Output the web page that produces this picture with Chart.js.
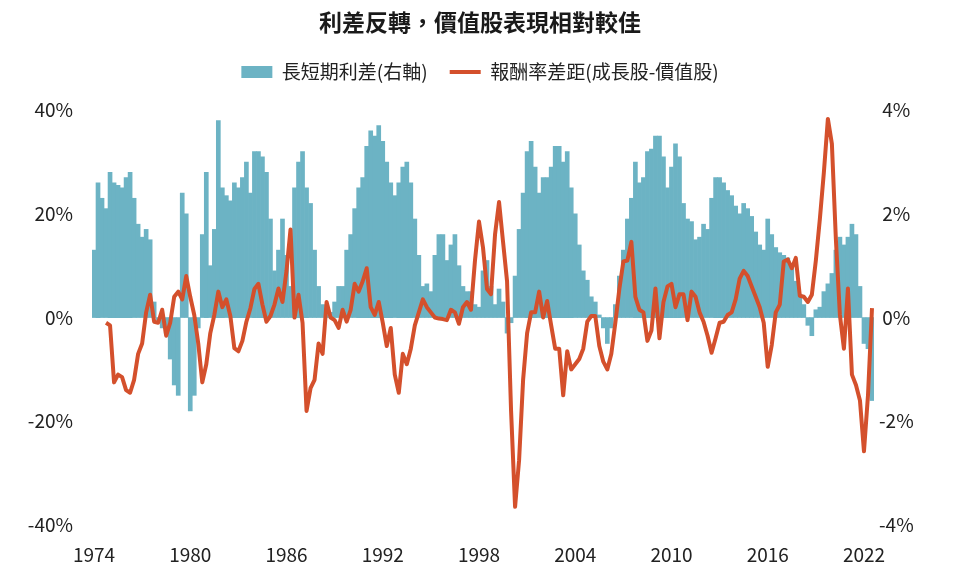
<!DOCTYPE html>
<html>
<head>
<meta charset="utf-8">
<script src="https://cdn.jsdelivr.net/npm/chart.js@4"></script>
<style>
    html, body { margin: 0; padding: 0; background: #fff; }
    #wrap { width: 960px; height: 573px; }
</style>
</head>
<body>
<div id="wrap"><canvas id="spread-chart"></canvas></div>
<script>
'use strict';

// quarterly, from 1974 Q1
var startYear = 1974;
var tickYears = [1974, 1980, 1986, 1992, 1998, 2004, 2010, 2016, 2022];

// long-short yield spread, % (right axis)
var spread = [
    1.3,
    2.6, 2.3, 2.1, 2.8,
    2.6, 2.55, 2.5, 2.7,
    2.8, 2.3, 1.8, 1.55,
    1.7, 1.5, 0.3, -0.05,
    -0.2, -0.3, -0.8, -1.3,
    -1.5, 2.4, 2.0, -1.8,
    -1.5, -0.2, 1.6, 2.8,
    1.0, 1.7, 3.8, 2.5,
    2.35, 2.25, 2.6, 2.5,
    2.7, 3.0, 2.4, 3.2,
    3.2, 3.1, 2.8, 1.9,
    0.9, 1.3, 1.9, 1.2,
    0.6, 2.5, 3.0, 3.2,
    2.5, 2.2, 1.3, 0.6,
    0.25, 0.05, 0.1, 0.3,
    0.6, 0.6, 1.3, 1.6,
    2.1, 2.5, 2.7, 3.3,
    3.6, 3.5, 3.7, 3.4,
    3.0, 2.6, 2.35, 2.6,
    2.9, 3.0, 2.6, 1.9,
    1.2, 0.6, 0.65, 0.5,
    1.2, 1.6, 1.6, 1.1,
    1.4, 1.6, 1.0, 0.6,
    0.5, 0.5, 0.25, 0.2,
    0.9, 1.1, 0.6, 0.25,
    0.55, 0.3, -0.3, -0.1,
    0.8, 1.7, 2.4, 3.2,
    3.4, 2.9, 2.4, 2.7,
    2.7, 2.9, 3.3, 3.3,
    3.0, 3.2, 2.5, 2.0,
    1.4, 0.9, 0.72, 0.4,
    0.3, 0.05, -0.2, -0.5,
    -0.2, 0.25, 0.8, 1.3,
    1.9, 2.3, 3.0, 2.6,
    2.7, 3.2, 3.25, 3.5,
    3.5, 3.1, 2.5, 2.9,
    3.35, 3.1, 2.2, 1.9,
    1.85, 1.5, 1.55, 1.8,
    1.7, 2.3, 2.7, 2.7,
    2.6, 2.45, 2.35, 2.15,
    2.0, 2.2, 2.1, 1.95,
    1.65, 1.4, 1.3, 1.9,
    1.6, 1.35, 1.25, 1.2,
    1.15, 1.0, 0.7, 0.45,
    0.25, -0.15, -0.35, 0.15,
    0.2, 0.5, 0.65, 0.85,
    1.3, 1.55, 1.4, 1.55,
    1.8, 1.6, 0.6, -0.5,
    -0.6, -1.6
];

// growth minus value return gap, % (left axis)
var returnGap = [
    null,
    null, null, -1, -1.5,
    -12.5, -11, -11.5, -14,
    -14.5, -12, -7, -5,
    1, 4.4, -0.8, -1,
    1.5, -3.5, -1, 4,
    5, 3.5, 8, 4,
    0.5, -5, -12.5, -9,
    -3, 0.5, 5, 2,
    3.5, 0.3, -5.9, -6.5,
    -4.5, -0.8, 1.8, 5.5,
    6.5, 2.5, -0.8, 0.3,
    2.5, 5.6, 3, 9,
    17, 0, 4.4, -1,
    -18, -13.6, -12, -5,
    -7, 3, 0, -0.5,
    -2, 1.5, -0.8, 1.5,
    6.5, 5, 7, 9.5,
    2, 0.5, 3, -1,
    -5.5, -2, -11, -14.5,
    -7, -9, -6, -1.5,
    1, 3.5, 2, 1,
    0, -0.2, -0.3, -0.5,
    1.5, 1, -1.2, 2,
    3, 1.5, 11, 18.5,
    13.5, 5.5, 4.5, 16,
    22.3, 14.6, 7, -18,
    -36.5, -27.5, -12, -3,
    1, 1, 5, 0,
    3.2, -1.5, -6, -6,
    -15, -6.5, -10, -9,
    -8, -6, -0.8, 0.3,
    0.3, -5.5, -8.5, -10,
    -7, -1, 5.5, 10.8,
    11, 14.6, 4, 1.5,
    1, -4.5, -2.5, 5.6,
    -4, 3, 6, 6.5,
    2, 4.5, 4.5, -0.5,
    5, 4, 1, -0.8,
    -3.5, -6.8, -4, -1,
    -0.8, 0.5, 1, 3.5,
    7.5, 9, 8, 6,
    4, 2, -1, -9.5,
    -5.3, 1, 2.5, 10.8,
    11.2, 9.5, 11.5, 4.2,
    4, 3, 4.4, 11,
    19, 28, 38.3, 33.5,
    15, 0.5, -6, 5.6,
    -11, -13, -16, -25.8,
    -15, 1.8
];

var quarters = [];
for (var i = 0; i < spread.length; i++) {
    quarters.push((startYear + Math.floor(i / 4)) + 'Q' + (i % 4 + 1));
}

var tickFont = { family: '"Noto Sans CJK TC", "Noto Sans", sans-serif', size: 19 };
var tickColor = '#222222';

Chart.defaults.font.family = '"Noto Sans CJK TC", "Noto Sans", sans-serif';

var $canvas = document.getElementById('spread-chart');
var spreadChart = new Chart($canvas, {
    type: 'bar',
    data: {
        labels: quarters,
        datasets: [{
            type: 'line',
            label: '報酬率差距(成長股-價值股)',
            data: returnGap,
            yAxisID: 'y',
            borderColor: '#D4502C',
            backgroundColor: '#D4502C',
            borderWidth: 4,
            borderJoinStyle: 'round',
            pointRadius: 0,
            pointStyle: 'line',
            tension: 0,
            order: 1
        }, {
            type: 'bar',
            label: '長短期利差(右軸)',
            data: spread,
            yAxisID: 'y1',
            backgroundColor: '#6CB3C4',
            borderWidth: 0,
            barPercentage: 1,
            categoryPercentage: 1,
            pointStyle: 'rect',
            order: 2
        }]
    },
    options: {
        responsive: true,
        maintainAspectRatio: false,
        animation: false,
        layout: { padding: 0 },
        plugins: {
            title: {
                display: true,
                text: '利差反轉，價值股表現相對較佳',
                color: '#1a1a1a',
                font: { size: 23, weight: 'bold' },
                padding: { top: 8, bottom: 5 }
            },
            subtitle: {
                // empty spacer between legend and plot
                display: true,
                text: '',
                weight: 500,
                font: { size: 10, lineHeight: 1 },
                padding: { top: 0, bottom: 8.5 }
            },
            legend: {
                position: 'top',
                reverse: true,
                labels: {
                    usePointStyle: true,
                    pointStyleWidth: 31,
                    boxHeight: 12,
                    padding: 22,
                    color: tickColor,
                    font: { size: 19 }
                }
            },
            tooltip: { enabled: false }
        },
        scales: {
            x: {
                type: 'category',
                offset: true,
                grid: { display: false, drawTicks: false },
                border: { display: false },
                ticks: {
                    autoSkip: false,
                    maxRotation: 0,
                    minRotation: 0,
                    padding: 18,
                    color: tickColor,
                    font: tickFont,
                    callback: function (value) {
                        var lab = this.getLabelForValue(value);
                        var yr = parseInt(lab.slice(0, 4), 10);
                        if (lab.slice(4) === 'Q1' && tickYears.indexOf(yr) !== -1) {
                            return String(yr);
                        }
                        return '';
                    }
                },
                afterFit: function (scale) { scale.height = 48; }
            },
            y: {
                position: 'left',
                min: -40,
                max: 40,
                grid: { display: false, drawTicks: false },
                border: { display: false },
                ticks: {
                    stepSize: 20,
                    padding: 19,
                    color: tickColor,
                    font: tickFont,
                    callback: function (v) { return v + '%'; }
                },
                afterFit: function (scale) { scale.width = 92; }
            },
            y1: {
                position: 'right',
                min: -4,
                max: 4,
                grid: { display: false, drawTicks: false },
                border: { display: false },
                ticks: {
                    stepSize: 2,
                    padding: 5,
                    crossAlign: 'center',
                    color: tickColor,
                    font: tickFont,
                    callback: function (v) { return v + '%'; }
                },
                afterFit: function (scale) { scale.width = 86; }
            }
        }
    }
});
</script>
</body>
</html>
